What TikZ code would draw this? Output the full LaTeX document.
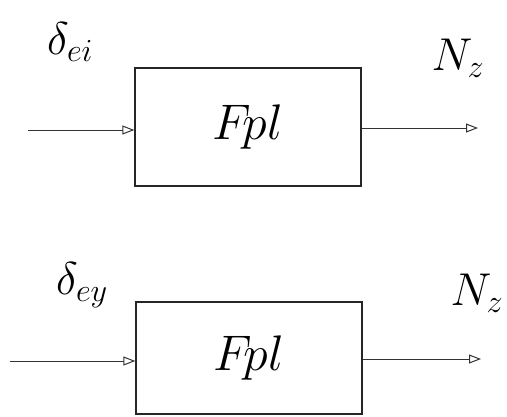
\documentclass[tikz,border=0pt]{standalone}
\usepackage{fix-cm}
\usetikzlibrary{arrows.meta}
\begin{document}
\begin{tikzpicture}[x=1pt,y=-1pt,
  blk/.style={draw=black!85,line width=1.3pt,minimum width=226pt,inner sep=0pt,font=\fontsize{50}{50}\selectfont},
  sig/.style={draw=black!80,line width=1pt,-{Triangle[open,length=12pt,width=9pt]}},
  lbl/.style={font=\fontsize{46}{46}\selectfont,inner sep=0pt}]
\useasboundingbox (0,0) rectangle (507,416);
\node[blk,minimum height=118pt] (b1) at (248,127) {$F\!pl$};
\node[blk,minimum height=112pt] (b2) at (249,358) {$F\!pl$};
\coordinate (i1) at (28,130);
\coordinate (o1) at (478,128);
\coordinate (i2) at (10,361);
\coordinate (o2) at (481,359);
\draw[sig] (i1) -- (i1 -| b1.west);
\draw[sig] (o1 -| b1.east) -- (o1);
\draw[sig] (i2) -- (i2 -| b2.west);
\draw[sig] (o2 -| b2.east) -- (o2);
\node[lbl] (l1) at (70,42) {$\delta_{ei}$};
\node[lbl] (l2) at (458,58) {$N_z$};
\node[lbl] (l3) at (82,285) {$\delta_{ey}$};
\node[lbl] (l4) at (477,293) {$N_z$};
\end{tikzpicture}
\end{document}
